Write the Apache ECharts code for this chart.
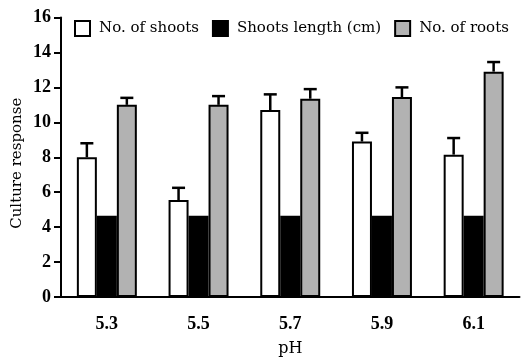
<!DOCTYPE html>
<html><head><meta charset="utf-8">
<script src="https://cdn.jsdelivr.net/npm/echarts@6/dist/echarts.min.js"></script>
<style>html,body{margin:0;padding:0;background:#fff}#c{width:521px;height:358px}</style>
</head><body><div id="c"></div>
<script>
const categories = ['5.3', '5.5', '5.7', '5.9', '6.1'];
const shoots = [8.0, 5.55, 10.7, 8.9, 8.15];
const shootsErr = [0.8, 0.7, 0.9, 0.5, 0.95];
const lengthCm = [4.65, 4.65, 4.65, 4.65, 4.65];
const roots = [11.0, 11.0, 11.35, 11.45, 12.9];
const rootsErr = [0.4, 0.5, 0.55, 0.55, 0.55];
const yTicks = [0, 2, 4, 6, 8, 10, 12, 14, 16];

const BAR_FRAC = 0.218;
function errSeries(vals, errs, off) {
  return {
    type: 'custom', z: 5, silent: true,
    data: vals.map((v, i) => [i, v, errs[i]]),
    renderItem: function (params, api) {
      const i = api.value(0), v = api.value(1), e = api.value(2);
      const bw = api.size([1, 0])[0];
      const p0 = api.coord([i, v]);
      const p1 = api.coord([i, v + e]);
      const x = p0[0] + off * bw * BAR_FRAC;
      const hw = 6.5;
      return {
        type: 'group',
        children: [
          { type: 'line', shape: { x1: x, y1: p0[1], x2: x, y2: p1[1] }, style: { stroke: '#000', lineWidth: 2.5 } },
          { type: 'line', shape: { x1: x - hw, y1: p1[1], x2: x + hw, y2: p1[1] }, style: { stroke: '#000', lineWidth: 2.5 } }
        ]
      };
    }
  };
}

const chart = echarts.init(document.getElementById('c'), null, { renderer: 'canvas' });
chart.setOption({
  animation: false,
  backgroundColor: '#fff',
  grid: { left: 61, right: 1.5, top: 17.5, bottom: 61, containLabel: false, outerBoundsMode: 'none' },
  legend: {
    data: ['No. of shoots', 'Shoots length (cm)', 'No. of roots'],
    left: 69, top: 15,
    icon: 'rect', itemWidth: 15, itemHeight: 15, itemGap: 13,
    itemStyle: { borderWidth: 2, borderColor: '#000' },
    textStyle: { fontFamily: 'DejaVu Serif', fontSize: 15, color: '#000', padding: [0, 0, 0, 4] }
  },
  xAxis: {
    type: 'category', data: categories,
    name: 'pH', nameLocation: 'middle', nameGap: 44,
    nameTextStyle: { fontFamily: 'DejaVu Serif', fontSize: 16, color: '#000' },
    axisLine: { lineStyle: { color: '#000', width: 2 } },
    axisTick: { length: 9, lineStyle: { color: '#000', width: 2 } },
    axisLabel: { margin: 18, fontFamily: 'Liberation Serif', fontWeight: 'bold', fontSize: 18, color: '#000' }
  },
  yAxis: {
    type: 'value', min: yTicks[0], max: yTicks[yTicks.length - 1], interval: 2,
    name: 'Culture response', nameLocation: 'middle', nameGap: 36, nameMoveOverlap: false,
    nameTextStyle: { fontFamily: 'DejaVu Serif', fontSize: 15, color: '#000', padding: [0, 0, 0, -12] },
    splitLine: { show: false },
    axisLine: { show: true, lineStyle: { color: '#000', width: 2 } },
    axisTick: { show: true, length: 7, lineStyle: { color: '#000', width: 2 } },
    axisLabel: { margin: 10, fontFamily: 'Liberation Serif', fontWeight: 'bold', fontSize: 18, color: '#000' }
  },
  series: [
    { name: 'No. of shoots', type: 'bar', data: shoots, barWidth: (BAR_FRAC * 100) + '%', barGap: '0%',
      itemStyle: { color: '#fff', borderColor: '#000', borderWidth: 2 } },
    { name: 'Shoots length (cm)', type: 'bar', data: lengthCm, barWidth: (BAR_FRAC * 100) + '%', barGap: '0%',
      itemStyle: { color: '#000', borderColor: '#000', borderWidth: 0 } },
    { name: 'No. of roots', type: 'bar', data: roots, barWidth: (BAR_FRAC * 100) + '%', barGap: '0%',
      itemStyle: { color: '#b2b2b2', borderColor: '#000', borderWidth: 2 } },
    errSeries(shoots, shootsErr, -1),
    errSeries(roots, rootsErr, 1)
  ]
});
</script></body></html>
